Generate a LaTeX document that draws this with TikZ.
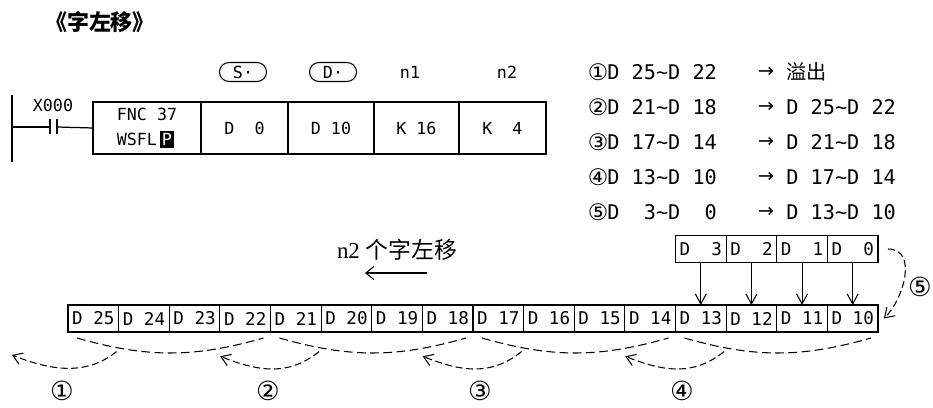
\documentclass[tikz,border=0pt]{standalone}
\usepackage{fontspec}
\usepackage{tikz}
\usetikzlibrary{arrows.meta,positioning}
\setmainfont{Liberation Serif}
\newfontfamily\plcfont{DejaVu Sans Mono}
\newfontfamily\symfont{DejaVu Sans}
\newfontfamily\cjkfont{Noto Sans CJK SC}
\newcommand{\tld}{\textasciitilde}
\newcommand{\pkey}{{\setlength{\fboxsep}{1.2pt}\colorbox{black}{\textcolor{white}{P}}}}

\begin{document}
\begin{tikzpicture}[
  x=0.02cm, y=-0.02cm,
  wire/.style={line width=0.7pt, black},
  instr/.style={
    rectangle, draw, line width=0.7pt, minimum height=1.04cm,
    inner sep=0pt, outer sep=0pt,
    font=\plcfont\fontsize{9.5}{14}\selectfont
  },
  oval/.style={
    rectangle, draw, line width=0.6pt, rounded corners=0.19cm,
    minimum width=0.94cm, minimum height=0.38cm, inner sep=0pt,
    font=\plcfont\fontsize{9.5}{11}\selectfont
  },
  plctext/.style={inner sep=0pt, font=\plcfont\fontsize{9.5}{11}\selectfont},
  listtext/.style={anchor=west, inner sep=0pt, font=\plcfont\fontsize{11.5}{13}\selectfont},
  circ/.style={inner sep=0pt, font=\symfont\fontsize{15}{17}\selectfont},
  reg/.style={
    rectangle, draw, line width=0.6pt,
    minimum width=1.0125cm, minimum height=0.54cm,
    inner sep=0pt, outer sep=0pt,
    font=\plcfont\fontsize{10}{12}\selectfont
  },
  move/.style={-{Straight Barb[length=2mm,width=2.2mm]}, line width=0.6pt},
  sag/.style={line width=0.6pt, dash pattern=on 5pt off 2.5pt},
  carry/.style={-{Straight Barb[length=1.8mm,width=2.4mm]}, line width=0.6pt, dash pattern=on 4pt off 2pt}
]
\useasboundingbox (0,0) rectangle (933,408);

% ---- Title ----
\node[inner sep=0pt, font=\cjkfont\bfseries\fontsize{12.5}{14}\selectfont] (title) at (100,22) {《字左移》};

% ---- Ladder rung ----
\draw[wire] (12,95) -- (12,162);
\coordinate (rail) at (12,127);
\coordinate (ctL) at (50,127);
\coordinate (ctR) at (57,127);
\node[plctext] (xlbl) at (53,105) {X000};

\node[instr, minimum width=2.16cm, align=left] (fnc) at (147,128) {FNC 37\\WSFL\,\pkey};
\node[instr, minimum width=1.74cm, right=0pt of fnc]  (opS)  {D~~0};
\node[instr, minimum width=1.72cm, right=0pt of opS]  (opD)  {D 10};
\node[instr, minimum width=1.70cm, right=0pt of opD]  (opN1) {K 16};
\node[instr, minimum width=1.74cm, right=0pt of opN1] (opN2) {K~~4};

\draw[wire] (rail) -- (ctL);
\draw[wire] ([yshift=0.15cm]ctL) -- ([yshift=-0.15cm]ctL);
\draw[wire] ([yshift=0.15cm]ctR) -- ([yshift=-0.15cm]ctR);
\draw[wire] (ctR) -- (fnc.west);

% ---- Operand labels ----
\node[oval]    (lblS)  at (243,72) {S·};
\node[oval]    (lblD)  at (333,72) {D·};
\node[plctext] (lblN1) at (410,72) {n1};
\node[plctext] (lblN2) at (507,72) {n2};

% ---- Step list ----
\foreach \n/\lhs/\rhs [count=\k from 0] in {
  ①/D 25\tld D 22/{\cjkfont 溢出},
  ②/D 21\tld D 18/D 25\tld D 22,
  ③/D 17\tld D 14/D 21\tld D 18,
  ④/D 13\tld D 10/D 17\tld D 14,
  ⑤/D~~3\tld D~~0/D 13\tld D 10
}{
  \node[circ, font=\symfont\fontsize{13}{15}\selectfont] (num\k) at (598,{72+35*\k}) {\n};
  \node[listtext] (lhs\k) at (607,{72+35*\k}) {\lhs};
  \node[circ, font=\symfont\fontsize{11}{13}\selectfont] (arr\k) at (766,{72+35*\k}) {→};
  \node[listtext] (rhs\k) at (786,{72+35*\k}) {\rhs};
}

% ---- Shift direction ----
\node[inner sep=0pt, font=\fontsize{13}{15}\selectfont] (shiftlbl) at (397,250) {n2 {\cjkfont 个字左移}};
\coordinate (shR) at (427,273);
\coordinate (shL) at (365,273);
\draw[-{Straight Barb[length=1.6mm,width=2.6mm]}, line width=0.6pt] (shR) -- (shL);

% ---- Registers D25..D10 ----
\foreach \i in {0,...,15} {
  \pgfmathtruncatemacro\reg{25-\i}
  \node[reg] (d\reg) at ({93.3+50.625*\i},318.5) {D \reg};
}

% ---- Source registers D3..D0 ----
\foreach \r [count=\i from 12] in {3,2,1,0} {
  \node[reg] (s\r) at ({93.3+50.625*\i},249) {D~~\r};
}
\foreach \s/\d in {3/13,2/12,1/11,0/10} {
  \draw[move] (s\s.south) -- (d\d.north);
}

% ---- 5: D3..D0 into D13..D10 ----
\draw[carry] ([xshift=0.2cm]s0.east) .. controls +(30,0) and +(20,-20) .. ([xshift=0.12cm]d10.east);
\node[circ] (lbl5) at (920,287) {⑤};

% ---- Word groups ----
\foreach \a/\b [count=\g] in {25/22,21/18,17/14,13/10} {
  \draw[sag] ([xshift=0.18cm,yshift=-0.12cm]d\a.south west)
    .. controls +(70,20) and +(-70,20) .. ([xshift=-0.14cm,yshift=-0.12cm]d\b.south east)
    coordinate[pos=0.2] (g\g-a) coordinate[pos=0.78] (g\g-b);
}

% ---- Group moves 1..4 ----
\coordinate (ovf) at (12,347);
\foreach \from/\to in {g1-a/ovf, g2-a/g1-b, g3-a/g2-b, g4-a/g3-b} {
  \draw[carry] ([yshift=-0.08cm]\from) .. controls +(-30,24) and +(40,16) .. ([yshift=-0.16cm]\to);
}
\foreach \t/\x [count=\k] in {①/62, ②/268, ③/480, ④/682} {
  \node[circ] (lbl\k) at (\x,391) {\t};
}

\end{tikzpicture}
\end{document}
